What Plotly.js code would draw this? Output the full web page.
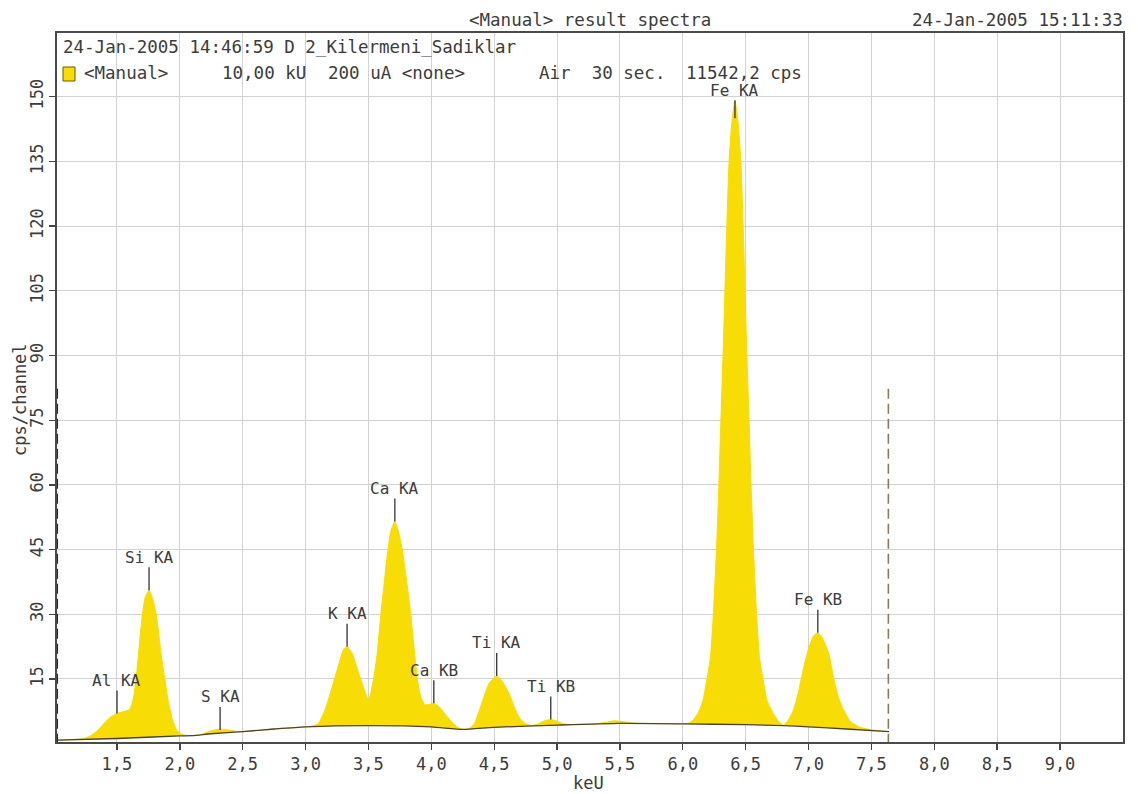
<!DOCTYPE html>
<html>
<head>
<meta charset="utf-8">
<script src="https://cdn.plot.ly/plotly-3.0.1.min.js"></script>
<style>
  html, body { margin: 0; padding: 0; background: #ffffff; }
  #chart { width: 1138px; height: 794px; }
</style>
</head>
<body>
<div id="chart"></div>
<script>
// ---- Spectrum (energy keV, cps/channel) ----
const specKeV = [1.02,1.10,1.20,1.25,1.30,1.35,1.40,1.45,1.50,1.55,1.60,1.63,1.65,1.675,1.70,1.725,1.755,1.785,1.815,1.85,1.88,1.91,1.94,1.97,2.00,2.05,2.10,2.15,2.20,2.25,2.32,2.40,2.45,2.50,2.60,2.75,2.90,3.00,3.05,3.10,3.15,3.20,3.25,3.30,3.33,3.37,3.41,3.45,3.50,3.52,3.54,3.57,3.60,3.63,3.655,3.68,3.71,3.74,3.77,3.80,3.836,3.86,3.89,3.92,3.95,3.98,4.02,4.06,4.10,4.14,4.18,4.22,4.26,4.30,4.34,4.38,4.42,4.46,4.52,4.57,4.62,4.66,4.70,4.75,4.80,4.85,4.90,4.95,5.00,5.05,5.10,5.20,5.30,5.40,5.45,5.50,5.60,5.70,5.80,5.90,6.00,6.05,6.08,6.12,6.16,6.195,6.22,6.243,6.268,6.287,6.303,6.32,6.335,6.35,6.368,6.39,6.415,6.44,6.462,6.48,6.495,6.51,6.527,6.543,6.562,6.587,6.61,6.635,6.67,6.72,6.76,6.80,6.84,6.88,6.92,6.96,7.00,7.04,7.074,7.11,7.16,7.20,7.24,7.28,7.33,7.40,7.50,7.64];
const specCps = [0.8,0.9,1.1,1.3,2.0,3.2,4.8,6.2,7.0,7.4,7.9,10.5,14.5,22,29.5,34,35.6,33.5,29.5,21,15,9.5,5.8,3.4,2.4,1.95,1.9,2.0,2.5,3.0,3.4,3.1,2.85,2.8,3.05,3.4,3.7,3.9,4.1,4.6,7.5,12,17,21.7,22.5,21,17.5,14,10.1,12,14.8,21,30.5,38.5,45,49.5,51.5,49,44.9,38.5,30.2,23,14.8,10.5,9.0,9.1,9.4,8.6,7.2,5.8,4.5,3.6,3.3,3.5,4.5,7.5,11,14,15.7,14.2,11.5,8.5,6.0,4.6,4.2,4.6,5.3,5.6,5.2,4.6,4.45,4.5,4.6,5.0,5.3,5.2,4.8,4.7,4.68,4.65,4.65,4.8,5.4,7,10,15.5,20,30,45,60,75,90,105,120,135,144,149,144,135,120,105,90,75,60,45,30,20,15.5,10,7,5.2,4.3,5.5,7.8,12,17.5,22,25,25.7,24.5,21,15.2,10.5,7.8,5.2,3.9,3.2,2.8];

// ---- Background continuum under the peaks ----
const bgKeV = [1.02,1.5,2.0,2.1,2.25,2.5,2.75,3.0,3.5,4.0,4.25,4.5,5.0,5.5,6.0,6.5,6.8,7.0,7.3,7.64];
const bgCps = [0.8,1.2,1.8,1.85,2.3,2.8,3.4,3.9,4.2,3.9,3.3,3.8,4.3,4.7,4.6,4.4,4.2,3.9,3.4,2.8];

// ---- Peak identification labels ----
const peakNames = ['Al KA','Si KA','S KA','K KA','Ca KA','Ca KB','Ti KA','Ti KB','Fe KA','Fe KB'];
const peakKeV   = [1.50, 1.755, 2.32, 3.33, 3.71, 4.02, 4.52, 4.95, 6.415, 7.074];
const peakCps   = [7.0, 35.6, 3.2, 22.5, 51.5, 9.4, 15.7, 5.6, 145, 25.7];

// ---- Region-of-interest markers (dashed) ----
const roiKeV = [1.025, 7.635];
const roiTop = 82.7;

// ---- Axis ticks ----
const xTicks = [1.5,2.0,2.5,3.0,3.5,4.0,4.5,5.0,5.5,6.0,6.5,7.0,7.5,8.0,8.5,9.0];
const yTicks = [15,30,45,60,75,90,105,120,135,150];

// ---- Texts ----
const headerTitle = '<Manual> result spectra';
const headerDate = '24-Jan-2005 15:11:33';
const sampleLine = '24-Jan-2005 14:46:59 D 2_Kilermeni_Sadiklar';
const legendParts = ['<Manual>', '10,00 kU', '200 uA <none>', 'Air\u00a0\u00a030 sec.', '11542,2 cps'];
const xTitle = 'keU';
const yTitle = 'cps/channel';

// ---- Layout geometry ----
const W = 1138, H = 794;
const M = {l: 57, r: 15, t: 33, b: 52};
const plotW = W - M.l - M.r, plotH = H - M.t - M.b;
const px = x => (x - M.l) / plotW;
const py = y => (H - M.b - y) / plotH;

const FONT = 'DejaVu Sans Mono, Liberation Mono, monospace';
const TXT = '#3c3c3c';
const YELLOW = '#F8DC06';

const traces = [
  { x: bgKeV, y: bgCps, type: 'scatter', mode: 'lines',
    line: {color: 'rgba(0,0,0,0)', width: 0, shape: 'spline', smoothing: 0.6},
    hoverinfo: 'skip', showlegend: false },
  { x: specKeV, y: specCps, type: 'scatter', mode: 'lines', fill: 'tonexty',
    fillcolor: YELLOW, line: {color: YELLOW, width: 1, shape: 'spline', smoothing: 0.5},
    hoverinfo: 'skip', showlegend: false },
  { x: bgKeV, y: bgCps, type: 'scatter', mode: 'lines',
    line: {color: '#4a4232', width: 1.3, shape: 'spline', smoothing: 0.6},
    hoverinfo: 'skip', showlegend: false },
  { x: [roiKeV[0], roiKeV[0]], y: [0, roiTop], type: 'scatter', mode: 'lines',
    line: {color: '#2a2a2a', width: 1.6, dash: '10px,5px'}, hoverinfo: 'skip', showlegend: false },
  { x: [roiKeV[1], roiKeV[1]], y: [0, roiTop], type: 'scatter', mode: 'lines',
    line: {color: '#8b7a5c', width: 1.6, dash: '10px,5px'}, hoverinfo: 'skip', showlegend: false }
];

const annotations = [];
peakNames.forEach((name, i) => {
  annotations.push({
    x: peakKeV[i], y: peakCps[i], xref: 'x', yref: 'y',
    text: name.replace(' ', '\u00a0'), showarrow: true, arrowhead: 0, arrowwidth: 1.3,
    arrowcolor: '#333333', ax: 0, ay: (name === 'Fe KA' ? -28 : -33),
    font: {family: FONT, size: 16, color: TXT}, borderpad: 0
  });
});

annotations.push({ x: px(590), y: py(20), xref: 'paper', yref: 'paper', text: headerTitle,
  showarrow: false, xanchor: 'center', yanchor: 'middle', font: {family: FONT, size: 17.5, color: TXT} });
annotations.push({ x: px(1125), y: py(20), xref: 'paper', yref: 'paper', text: headerDate,
  showarrow: false, xanchor: 'right', yanchor: 'middle', font: {family: FONT, size: 17.5, color: TXT} });
annotations.push({ x: px(61), y: py(47), xref: 'paper', yref: 'paper', text: sampleLine,
  showarrow: false, xanchor: 'left', yanchor: 'middle', font: {family: FONT, size: 17.5, color: TXT} });
const legendX = [82, 220, 326, 537, 684];
legendParts.forEach((t, i) => {
  annotations.push({ x: px(legendX[i]), y: py(73), xref: 'paper', yref: 'paper', text: t,
    showarrow: false, xanchor: 'left', yanchor: 'middle', font: {family: FONT, size: 17.5, color: TXT} });
});
annotations.push({ x: px(588), y: py(783), xref: 'paper', yref: 'paper', text: xTitle,
  showarrow: false, xanchor: 'center', yanchor: 'middle', font: {family: FONT, size: 17, color: TXT} });
annotations.push({ x: px(20), y: py(400), xref: 'paper', yref: 'paper', text: yTitle, textangle: -90,
  showarrow: false, xanchor: 'center', yanchor: 'middle', font: {family: FONT, size: 17, color: TXT} });

const shapes = [
  { type: 'rect', xref: 'paper', yref: 'paper', x0: px(63), x1: px(75), y0: py(81), y1: py(67),
    fillcolor: YELLOW, line: {color: '#6b5a00', width: 1} }
];

const layout = {
  width: W, height: H,
  margin: M,
  paper_bgcolor: '#ffffff', plot_bgcolor: '#ffffff',
  separators: ',.',
  showlegend: false,
  xaxis: {
    range: [1.023, 9.501], tickvals: xTicks, tickformat: '.1f',
    ticks: 'outside', ticklen: 6, tickwidth: 1.3, tickcolor: '#444',
    showline: true, linecolor: '#4a4a4a', linewidth: 1.6, mirror: true,
    showgrid: true, gridcolor: '#d2d2d2', gridwidth: 1, zeroline: false,
    tickfont: {family: FONT, size: 17, color: TXT}
  },
  yaxis: {
    range: [0.39, 164.77], tickvals: yTicks, tickangle: -90,
    ticks: 'outside', ticklen: 6, tickwidth: 1.3, tickcolor: '#444',
    showline: true, linecolor: '#4a4a4a', linewidth: 1.6, mirror: true,
    showgrid: true, gridcolor: '#d2d2d2', gridwidth: 1, zeroline: false,
    tickfont: {family: FONT, size: 17, color: TXT}
  },
  annotations: annotations,
  shapes: shapes
};

Plotly.newPlot('chart', traces, layout, {displayModeBar: false, staticPlot: true});
</script>
</body>
</html>
